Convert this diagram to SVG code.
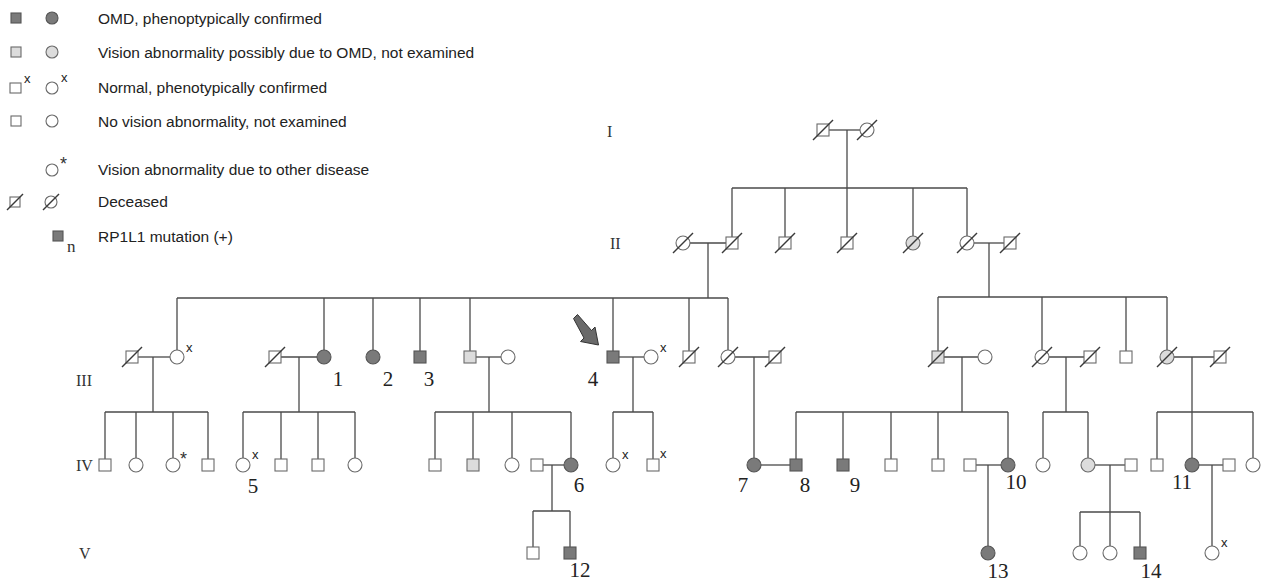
<svg xmlns="http://www.w3.org/2000/svg" width="1268" height="583" viewBox="0 0 1268 583">
<style>
.bg{fill:#ffffff}
.ln{stroke:#4a4a4a;stroke-width:1.3;fill:none}
.s{stroke:#6a6a6a;stroke-width:1.1;fill:#ffffff}
.a{fill:#7a7a7a;stroke:#555555}
.p{fill:#dcdcdc}
.d{stroke:#3a3a3a;stroke-width:1.4}
.lg{font-family:"Liberation Sans",Arial,sans-serif;font-size:15.5px;fill:#222222}
.num{font-family:"Liberation Serif","Times New Roman",serif;font-size:21px;fill:#222222;text-anchor:middle}
.gen{font-family:"Liberation Serif","Times New Roman",serif;font-size:16px;fill:#333333}
.sup{font-family:"Liberation Sans",Arial,sans-serif;font-size:13px;fill:#222222}
.ast{font-family:"Liberation Sans",Arial,sans-serif;font-size:18px;fill:#333333}
</style>
<rect class="bg" x="0" y="0" width="1268" height="583"/>

<g id="legend">
  <rect class="s a" x="11" y="13" width="10" height="10"/>
  <circle class="s a" cx="52" cy="18" r="6"/>
  <text class="lg" x="98" y="24">OMD, phenoptypically confirmed</text>
  <rect class="s p" x="11" y="47" width="10" height="10"/>
  <circle class="s p" cx="52" cy="52" r="6"/>
  <text class="lg" x="98" y="58">Vision abnormality possibly due to OMD, not examined</text>
  <rect class="s" x="10" y="83" width="11" height="10"/>
  <text class="sup" x="24" y="83">x</text>
  <circle class="s" cx="52" cy="88" r="6"/>
  <text class="sup" x="61" y="82">x</text>
  <text class="lg" x="98" y="93">Normal, phenotypically confirmed</text>
  <rect class="s" x="11" y="116" width="10" height="10"/>
  <circle class="s" cx="52" cy="121" r="6"/>
  <text class="lg" x="98" y="127">No vision abnormality, not examined</text>
  <circle class="s" cx="52" cy="170" r="6"/>
  <text class="ast" x="60" y="170">*</text>
  <text class="lg" x="98" y="175">Vision abnormality due to other disease</text>
  <rect class="s" x="10" y="197" width="10" height="10"/>
  <line class="d" x1="7" y1="210" x2="23" y2="194"/>
  <circle class="s" cx="51" cy="202" r="6"/>
  <line class="d" x1="43" y1="210" x2="59" y2="194"/>
  <text class="lg" x="98" y="207">Deceased</text>
  <rect class="s a" x="53" y="231" width="10" height="10"/>
  <text class="gen" x="67" y="252" style="font-size:17px">n</text>
  <text class="lg" x="98" y="242">RP1L1 mutation (+)</text>
</g>

<g id="gen-labels">
  <text class="gen" x="607" y="137">I</text>
  <text class="gen" x="610" y="249">II</text>
  <text class="gen" x="76" y="386">III</text>
  <text class="gen" x="76" y="471">IV</text>
  <text class="gen" x="79" y="559">V</text>
</g>

<g id="connectors">
  <!-- generation I -->
  <line class="ln" x1="829" y1="130" x2="860" y2="130"/>
  <line class="ln" x1="847" y1="130" x2="847" y2="188"/>
  <line class="ln" x1="732" y1="188" x2="967" y2="188"/>
  <line class="ln" x1="732" y1="188" x2="732" y2="237"/>
  <line class="ln" x1="785" y1="188" x2="785" y2="237"/>
  <line class="ln" x1="847" y1="188" x2="847" y2="237"/>
  <line class="ln" x1="913" y1="188" x2="913" y2="236"/>
  <line class="ln" x1="967" y1="188" x2="967" y2="236"/>
  <!-- generation II -->
  <line class="ln" x1="690" y1="243" x2="726" y2="243"/>
  <line class="ln" x1="708" y1="243" x2="708" y2="298"/>
  <line class="ln" x1="177" y1="298" x2="728" y2="298"/>
  <line class="ln" x1="177" y1="298" x2="177" y2="350"/>
  <line class="ln" x1="324" y1="298" x2="324" y2="350"/>
  <line class="ln" x1="373" y1="298" x2="373" y2="350"/>
  <line class="ln" x1="420" y1="298" x2="420" y2="351"/>
  <line class="ln" x1="470" y1="298" x2="470" y2="351"/>
  <line class="ln" x1="613" y1="298" x2="613" y2="351"/>
  <line class="ln" x1="689" y1="298" x2="689" y2="351"/>
  <line class="ln" x1="728" y1="298" x2="728" y2="350"/>
  <line class="ln" x1="974" y1="243" x2="1004" y2="243"/>
  <line class="ln" x1="989" y1="243" x2="989" y2="297"/>
  <line class="ln" x1="938" y1="297" x2="1167" y2="297"/>
  <line class="ln" x1="938" y1="297" x2="938" y2="351"/>
  <line class="ln" x1="1042" y1="297" x2="1042" y2="350"/>
  <line class="ln" x1="1126" y1="297" x2="1126" y2="351"/>
  <line class="ln" x1="1167" y1="297" x2="1167" y2="350"/>
  <!-- generation III families -->
  <line class="ln" x1="138" y1="357" x2="170" y2="357"/>
  <line class="ln" x1="153" y1="357" x2="153" y2="412"/>
  <line class="ln" x1="105" y1="412" x2="208" y2="412"/>
  <line class="ln" x1="105" y1="412" x2="105" y2="459"/>
  <line class="ln" x1="136" y1="412" x2="136" y2="458"/>
  <line class="ln" x1="173" y1="412" x2="173" y2="458"/>
  <line class="ln" x1="208" y1="412" x2="208" y2="459"/>

  <line class="ln" x1="281" y1="357" x2="317" y2="357"/>
  <line class="ln" x1="299" y1="357" x2="299" y2="412"/>
  <line class="ln" x1="243" y1="412" x2="355" y2="412"/>
  <line class="ln" x1="243" y1="412" x2="243" y2="458"/>
  <line class="ln" x1="281" y1="412" x2="281" y2="459"/>
  <line class="ln" x1="318" y1="412" x2="318" y2="459"/>
  <line class="ln" x1="355" y1="412" x2="355" y2="458"/>

  <line class="ln" x1="476" y1="357" x2="501" y2="357"/>
  <line class="ln" x1="489" y1="357" x2="489" y2="412"/>
  <line class="ln" x1="435" y1="412" x2="571" y2="412"/>
  <line class="ln" x1="435" y1="412" x2="435" y2="459"/>
  <line class="ln" x1="473" y1="412" x2="473" y2="459"/>
  <line class="ln" x1="512" y1="412" x2="512" y2="458"/>
  <line class="ln" x1="571" y1="412" x2="571" y2="458"/>

  <line class="ln" x1="619" y1="357" x2="644" y2="357"/>
  <line class="ln" x1="633" y1="357" x2="633" y2="412"/>
  <line class="ln" x1="613" y1="412" x2="653" y2="412"/>
  <line class="ln" x1="613" y1="412" x2="613" y2="458"/>
  <line class="ln" x1="653" y1="412" x2="653" y2="459"/>

  <line class="ln" x1="735" y1="357" x2="769" y2="357"/>
  <line class="ln" x1="754" y1="357" x2="754" y2="458"/>

  <line class="ln" x1="944" y1="357" x2="978" y2="357"/>
  <line class="ln" x1="962" y1="357" x2="962" y2="412"/>
  <line class="ln" x1="796" y1="412" x2="1008" y2="412"/>
  <line class="ln" x1="796" y1="412" x2="796" y2="459"/>
  <line class="ln" x1="843" y1="412" x2="843" y2="459"/>
  <line class="ln" x1="891" y1="412" x2="891" y2="459"/>
  <line class="ln" x1="938" y1="412" x2="938" y2="459"/>
  <line class="ln" x1="1008" y1="412" x2="1008" y2="458"/>

  <line class="ln" x1="1049" y1="357" x2="1084" y2="357"/>
  <line class="ln" x1="1066" y1="357" x2="1066" y2="412"/>
  <line class="ln" x1="1043" y1="412" x2="1088" y2="412"/>
  <line class="ln" x1="1043" y1="412" x2="1043" y2="458"/>
  <line class="ln" x1="1088" y1="412" x2="1088" y2="458"/>

  <line class="ln" x1="1174" y1="357" x2="1214" y2="357"/>
  <line class="ln" x1="1192" y1="357" x2="1192" y2="412"/>
  <line class="ln" x1="1157" y1="412" x2="1253" y2="412"/>
  <line class="ln" x1="1157" y1="412" x2="1157" y2="459"/>
  <line class="ln" x1="1192" y1="412" x2="1192" y2="458"/>
  <line class="ln" x1="1253" y1="412" x2="1253" y2="458"/>
  <!-- generation IV families -->
  <line class="ln" x1="543" y1="465" x2="564" y2="465"/>
  <line class="ln" x1="552" y1="465" x2="552" y2="511"/>
  <line class="ln" x1="533" y1="511" x2="570" y2="511"/>
  <line class="ln" x1="533" y1="511" x2="533" y2="547"/>
  <line class="ln" x1="570" y1="511" x2="570" y2="547"/>

  <line class="ln" x1="761" y1="465" x2="790" y2="465"/>

  <line class="ln" x1="976" y1="465" x2="1001" y2="465"/>
  <line class="ln" x1="988" y1="465" x2="988" y2="546"/>

  <line class="ln" x1="1095" y1="465" x2="1125" y2="465"/>
  <line class="ln" x1="1110" y1="465" x2="1110" y2="512"/>
  <line class="ln" x1="1080" y1="512" x2="1140" y2="512"/>
  <line class="ln" x1="1080" y1="512" x2="1080" y2="546"/>
  <line class="ln" x1="1110" y1="512" x2="1110" y2="546"/>
  <line class="ln" x1="1140" y1="512" x2="1140" y2="547"/>

  <line class="ln" x1="1199" y1="465" x2="1223" y2="465"/>
  <line class="ln" x1="1212" y1="465" x2="1212" y2="546"/>
</g>

<g id="proband-arrow">
  <path d="M573.5,318.5 L577.5,314.5 L591.5,330.5 L595,327 L598.5,345 L580.5,341.5 L584,338 Z" fill="#6a6a6a" stroke="#333333" stroke-width="1"/>
</g>

<!-- Generation I -->
<g id="I-1"><rect class="s" x="817" y="124" width="12" height="12"/><line class="d" x1="813" y1="140" x2="833" y2="120"/></g>
<g id="I-2"><circle class="s" cx="867" cy="130" r="7"/><line class="d" x1="857" y1="140" x2="877" y2="120"/></g>

<!-- Generation II -->
<g id="II-1"><circle class="s" cx="683" cy="243" r="7"/><line class="d" x1="673" y1="253" x2="693" y2="233"/></g>
<g id="II-2"><rect class="s" x="726" y="237" width="12" height="12"/><line class="d" x1="722" y1="253" x2="742" y2="233"/></g>
<g id="II-3"><rect class="s" x="779" y="237" width="12" height="12"/><line class="d" x1="775" y1="253" x2="795" y2="233"/></g>
<g id="II-4"><rect class="s" x="841" y="237" width="12" height="12"/><line class="d" x1="837" y1="253" x2="857" y2="233"/></g>
<g id="II-5"><circle class="s p" cx="913" cy="243" r="7"/><line class="d" x1="903" y1="253" x2="923" y2="233"/></g>
<g id="II-6"><circle class="s" cx="967" cy="243" r="7"/><line class="d" x1="957" y1="253" x2="977" y2="233"/></g>
<g id="II-7"><rect class="s" x="1004" y="237" width="12" height="12"/><line class="d" x1="1000" y1="253" x2="1020" y2="233"/></g>

<!-- Generation III -->
<g id="III-a"><rect class="s" x="126" y="351" width="12" height="12"/><line class="d" x1="122" y1="367" x2="142" y2="347"/></g>
<g id="III-b"><circle class="s" cx="177" cy="357" r="7"/><text class="sup" x="186" y="352">x</text></g>
<g id="III-c"><rect class="s" x="269" y="351" width="12" height="12"/><line class="d" x1="265" y1="367" x2="285" y2="347"/></g>
<g id="III-1"><circle class="s a" cx="324" cy="357" r="7"/><text class="num" x="338" y="386">1</text></g>
<g id="III-2"><circle class="s a" cx="373" cy="357" r="7"/><text class="num" x="388" y="386">2</text></g>
<g id="III-3"><rect class="s a" x="414" y="351" width="12" height="12"/><text class="num" x="429" y="386">3</text></g>
<g id="III-d"><rect class="s p" x="464" y="351" width="12" height="12"/></g>
<g id="III-e"><circle class="s" cx="508" cy="357" r="7"/></g>
<g id="III-4"><rect class="s a" x="607" y="351" width="12" height="12"/><text class="num" x="593" y="386">4</text></g>
<g id="III-f"><circle class="s" cx="651" cy="357" r="7"/><text class="sup" x="660" y="352">x</text></g>
<g id="III-g"><rect class="s" x="683" y="351" width="12" height="12"/><line class="d" x1="679" y1="367" x2="699" y2="347"/></g>
<g id="III-h"><circle class="s" cx="728" cy="357" r="7"/><line class="d" x1="718" y1="367" x2="738" y2="347"/></g>
<g id="III-i"><rect class="s" x="769" y="351" width="12" height="12"/><line class="d" x1="765" y1="367" x2="785" y2="347"/></g>
<g id="III-j"><rect class="s p" x="932" y="351" width="12" height="12"/><line class="d" x1="928" y1="367" x2="948" y2="347"/></g>
<g id="III-k"><circle class="s" cx="985" cy="357" r="7"/></g>
<g id="III-l"><circle class="s" cx="1042" cy="357" r="7"/><line class="d" x1="1032" y1="367" x2="1052" y2="347"/></g>
<g id="III-m"><rect class="s" x="1084" y="351" width="12" height="12"/><line class="d" x1="1080" y1="367" x2="1100" y2="347"/></g>
<g id="III-n"><rect class="s" x="1120" y="351" width="12" height="12"/></g>
<g id="III-o"><circle class="s p" cx="1167" cy="357" r="7"/><line class="d" x1="1157" y1="367" x2="1177" y2="347"/></g>
<g id="III-p"><rect class="s" x="1214" y="351" width="12" height="12"/><line class="d" x1="1210" y1="367" x2="1230" y2="347"/></g>

<!-- Generation IV -->
<g id="IV-a"><rect class="s" x="99" y="459" width="12" height="12"/></g>
<g id="IV-b"><circle class="s" cx="136" cy="465" r="7"/></g>
<g id="IV-c"><circle class="s" cx="173" cy="465" r="7"/><text class="ast" x="180" y="465">*</text></g>
<g id="IV-d"><rect class="s" x="202" y="459" width="12" height="12"/></g>
<g id="IV-5"><circle class="s" cx="243" cy="465" r="7"/><text class="sup" x="252" y="459">x</text><text class="num" x="253" y="493">5</text></g>
<g id="IV-e"><rect class="s" x="275" y="459" width="12" height="12"/></g>
<g id="IV-f"><rect class="s" x="312" y="459" width="12" height="12"/></g>
<g id="IV-g"><circle class="s" cx="355" cy="465" r="7"/></g>
<g id="IV-h"><rect class="s" x="429" y="459" width="12" height="12"/></g>
<g id="IV-i"><rect class="s p" x="467" y="459" width="12" height="12"/></g>
<g id="IV-j"><circle class="s" cx="512" cy="465" r="7"/></g>
<g id="IV-k"><rect class="s" x="531" y="459" width="12" height="12"/></g>
<g id="IV-6"><circle class="s a" cx="571" cy="465" r="7"/><text class="num" x="579" y="492">6</text></g>
<g id="IV-l"><circle class="s" cx="613" cy="465" r="7"/><text class="sup" x="622" y="459">x</text></g>
<g id="IV-m"><rect class="s" x="647" y="459" width="12" height="12"/><text class="sup" x="660" y="458">x</text></g>
<g id="IV-7"><circle class="s a" cx="754" cy="465" r="7"/><text class="num" x="743" y="492">7</text></g>
<g id="IV-8"><rect class="s a" x="790" y="459" width="12" height="12"/><text class="num" x="805" y="492">8</text></g>
<g id="IV-9"><rect class="s a" x="837" y="459" width="12" height="12"/><text class="num" x="855" y="492">9</text></g>
<g id="IV-n"><rect class="s" x="885" y="459" width="12" height="12"/></g>
<g id="IV-o"><rect class="s" x="932" y="459" width="12" height="12"/></g>
<g id="IV-p"><rect class="s" x="964" y="459" width="12" height="12"/></g>
<g id="IV-10"><circle class="s a" cx="1008" cy="465" r="7"/><text class="num" x="1016" y="489">10</text></g>
<g id="IV-q"><circle class="s" cx="1043" cy="465" r="7"/></g>
<g id="IV-r"><circle class="s p" cx="1088" cy="465" r="7"/></g>
<g id="IV-s"><rect class="s" x="1125" y="459" width="12" height="12"/></g>
<g id="IV-t"><rect class="s" x="1151" y="459" width="12" height="12"/></g>
<g id="IV-11"><circle class="s a" cx="1192" cy="465" r="7"/><text class="num" x="1182" y="489">11</text></g>
<g id="IV-u"><rect class="s" x="1223" y="459" width="12" height="12"/></g>
<g id="IV-v"><circle class="s" cx="1253" cy="465" r="7"/></g>

<!-- Generation V -->
<g id="V-a"><rect class="s" x="527" y="547" width="12" height="12"/></g>
<g id="V-12"><rect class="s a" x="564" y="547" width="12" height="12"/><text class="num" x="580" y="577">12</text></g>
<g id="V-13"><circle class="s a" cx="988" cy="553" r="7"/><text class="num" x="998" y="578">13</text></g>
<g id="V-b"><circle class="s" cx="1080" cy="553" r="7"/></g>
<g id="V-c"><circle class="s" cx="1110" cy="553" r="7"/></g>
<g id="V-14"><rect class="s a" x="1134" y="547" width="12" height="12"/><text class="num" x="1151" y="578">14</text></g>
<g id="V-d"><circle class="s" cx="1212" cy="553" r="7"/><text class="sup" x="1221" y="547">x</text></g>
</svg>
